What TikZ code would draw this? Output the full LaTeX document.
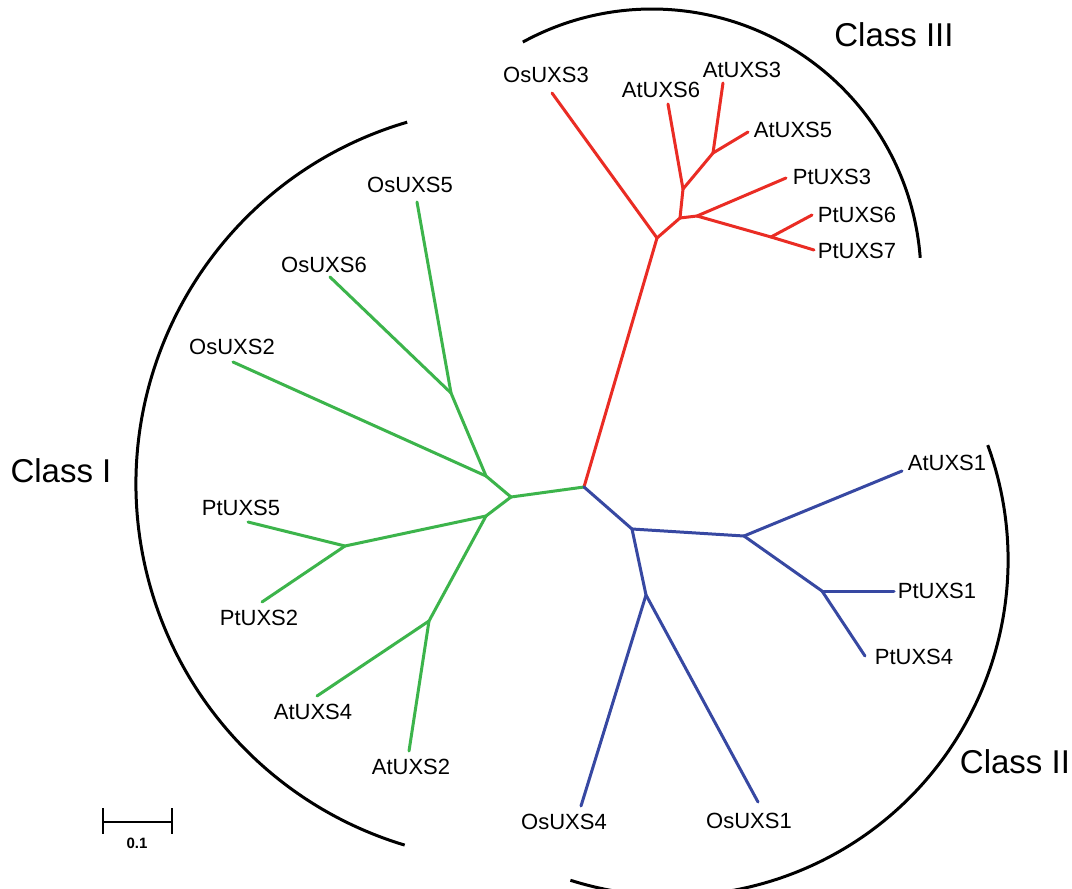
\documentclass[tikz,border=0pt]{standalone}
\usepackage{fontspec}
\setmainfont{Liberation Sans}
\definecolor{tred}{RGB}{234,44,36}
\definecolor{tgreen}{RGB}{60,180,75}
\definecolor{tblue}{RGB}{55,72,162}
\tikzset{
  br/.style={line width=3pt, line cap=round, line join=round},
  redbr/.style={br, draw=tred},
  greenbr/.style={br, draw=tgreen},
  bluebr/.style={br, draw=tblue},
  leaf/.style={inner sep=0pt, font=\fontsize{22}{24}\selectfont},
  classlab/.style={inner sep=0pt, font=\fontsize{33}{36}\selectfont},
  bracket/.style={line width=3pt, draw=black},
}
\begin{document}
\begin{tikzpicture}[x=1pt,y=1pt,yscale=-1]
\useasboundingbox (0,0) rectangle (1072,889);
\fill[white] (0,0) rectangle (1072,889);

% ---------- internal nodes / tips ----------
\coordinate (R) at (584,487);
% red clade
\coordinate (A) at (657,238);
\coordinate (B) at (680,218);
\coordinate (C) at (683,189);
\coordinate (F) at (713,153);
\coordinate (D) at (697,216);
\coordinate (E) at (771,237);
\coordinate (tOs3) at (552,93);
\coordinate (tAt6) at (668,104);
\coordinate (tAt3) at (723,83);
\coordinate (tAt5) at (748,132);
\coordinate (tPt3) at (786,178);
\coordinate (tPt6) at (812,215);
\coordinate (tPt7) at (814,250);
% green clade
\coordinate (I) at (511,497);
\coordinate (H) at (486,476);
\coordinate (G) at (451,393);
\coordinate (J) at (486,516);
\coordinate (K) at (345,546);
\coordinate (L) at (429,621);
\coordinate (tOs2) at (233,362);
\coordinate (tOs5) at (417,202);
\coordinate (tOs6) at (330,277);
\coordinate (tPt5) at (248,522);
\coordinate (tPt2) at (262,602);
\coordinate (tAt4) at (317,696);
\coordinate (tAt2) at (409,751);
% blue clade
\coordinate (M) at (632,529);
\coordinate (N) at (744,536);
\coordinate (O) at (822,591);
\coordinate (P) at (646,595);
\coordinate (tAt1) at (902,471);
\coordinate (tPt1) at (894,591);
\coordinate (tPt4) at (865,656);
\coordinate (tOs4) at (581,806);
\coordinate (tOs1) at (758,802);

% ---------- branches ----------
\draw[redbr] (R) -- (A);
\draw[redbr] (A) -- (tOs3);
\draw[redbr] (A) -- (B);
\draw[redbr] (B) -- (C);
\draw[redbr] (C) -- (tAt6);
\draw[redbr] (C) -- (F);
\draw[redbr] (F) -- (tAt3);
\draw[redbr] (F) -- (tAt5);
\draw[redbr] (B) -- (D);
\draw[redbr] (D) -- (tPt3);
\draw[redbr] (D) -- (E);
\draw[redbr] (E) -- (tPt6);
\draw[redbr] (E) -- (tPt7);

\draw[greenbr] (R) -- (I);
\draw[greenbr] (I) -- (H);
\draw[greenbr] (H) -- (tOs2);
\draw[greenbr] (H) -- (G);
\draw[greenbr] (G) -- (tOs5);
\draw[greenbr] (G) -- (tOs6);
\draw[greenbr] (I) -- (J);
\draw[greenbr] (J) -- (K);
\draw[greenbr] (K) -- (tPt5);
\draw[greenbr] (K) -- (tPt2);
\draw[greenbr] (J) -- (L);
\draw[greenbr] (L) -- (tAt4);
\draw[greenbr] (L) -- (tAt2);

\draw[bluebr] (R) -- (M);
\draw[bluebr] (M) -- (N);
\draw[bluebr] (N) -- (tAt1);
\draw[bluebr] (N) -- (O);
\draw[bluebr] (O) -- (tPt1);
\draw[bluebr] (O) -- (tPt4);
\draw[bluebr] (M) -- (P);
\draw[bluebr] (P) -- (tOs4);
\draw[bluebr] (P) -- (tOs1);

% ---------- leaf labels ----------
\node[leaf] (lOs3) at (546,75) {OsUXS3};
\node[leaf] (lAt6) at (661,90) {AtUXS6};
\node[leaf] (lAt3) at (742,70) {AtUXS3};
\node[leaf] (lAt5) at (793,130) {AtUXS5};
\node[leaf] (lPt3) at (832,177) {PtUXS3};
\node[leaf] (lPt6) at (857,215) {PtUXS6};
\node[leaf] (lPt7) at (857,251) {PtUXS7};
\node[leaf] (lOs5) at (410,185) {OsUXS5};
\node[leaf] (lOs6) at (324,265) {OsUXS6};
\node[leaf] (lOs2) at (232,347) {OsUXS2};
\node[leaf] (lPt5) at (241,508) {PtUXS5};
\node[leaf] (lPt2) at (259,618) {PtUXS2};
\node[leaf] (lAt4) at (313,712) {AtUXS4};
\node[leaf] (lAt2) at (411,767) {AtUXS2};
\node[leaf] (lAt1) at (947,463) {AtUXS1};
\node[leaf] (lPt1) at (937,591) {PtUXS1};
\node[leaf] (lPt4) at (914,657) {PtUXS4};
\node[leaf] (lOs1) at (749,821) {OsUXS1};
\node[leaf] (lOs4) at (564,822) {OsUXS4};

% ---------- class brackets ----------
\coordinate (c1) at (513,484);
\coordinate (c2) at (672,560);
\coordinate (c3) at (652,278);
\draw[bracket] (c1) ++(-106.3:377) arc[start angle=-106.3, end angle=-253.3, radius=377];
\draw[bracket] (c2) ++(-20:336) arc[start angle=-20, end angle=107.6, radius=336];
\draw[bracket] (c3) ++(-118.7:269) arc[start angle=-118.7, end angle=-4.3, radius=269];

\node[classlab] (cI) at (61,471) {Class I};
\node[classlab] (cII) at (1015,762) {Class II};
\node[classlab] (cIII) at (894,35) {Class III};

% ---------- scale bar ----------
\coordinate (sb1) at (103,822);
\coordinate (sb2) at (172,822);
\draw[line width=2.2pt] (sb1) -- (sb2);
\draw[line width=2.2pt] ([yshift=-14pt]sb1) -- ([yshift=12pt]sb1);
\draw[line width=2.2pt] ([yshift=-14pt]sb2) -- ([yshift=12pt]sb2);
\node[inner sep=0pt, font=\fontsize{15}{17}\selectfont\bfseries] (sbl) at (137,843) {0.1};
\end{tikzpicture}
\end{document}
